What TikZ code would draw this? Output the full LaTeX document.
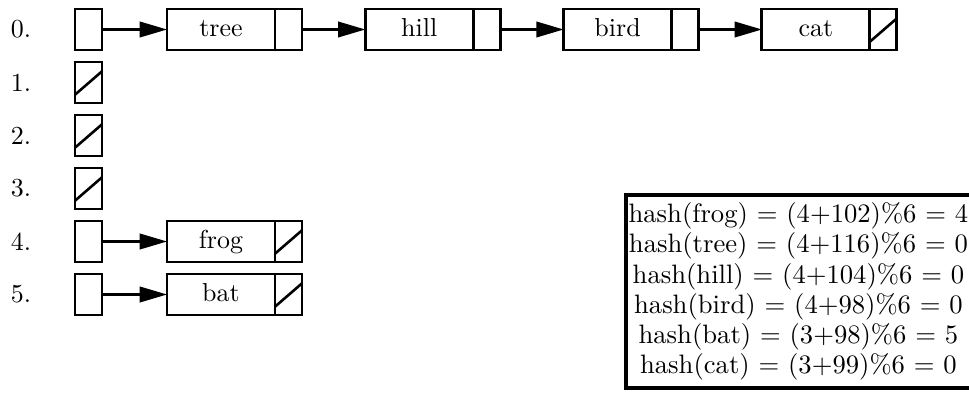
\documentclass[tikz,border=0pt]{standalone}
\usetikzlibrary{arrows.meta}
\begin{document}
\begin{tikzpicture}[x=0.385pt,y=-0.385pt,
  cellbox/.style={draw,line width=1.1pt,outer sep=0pt,inner sep=0pt,minimum height=15.8pt},
  idxcell/.style={cellbox,minimum width=10.4pt},
  datacell/.style={cellbox,minimum width=41.6pt,text height=1.5ex,text depth=0.25ex},
  ptrcell/.style={cellbox,minimum width=10.4pt},
  lbl/.style={inner sep=0pt},
  link/.style={line width=0.8pt,-{Triangle[length=10.5pt,width=6pt]}},
  nil/.style={line width=1pt},
  hashbox/.style={draw,line width=1.4pt,outer sep=0pt,inner xsep=1pt,inner ysep=3pt,align=center,anchor=north west}
]
\useasboundingbox (0,0) rectangle (969,394);
\clip (0,0) rectangle (969,394);
% index column
\foreach \i in {0,...,5}{
  \node[lbl] (l\i) at (21,{29.5+53*\i}) {\i.};
  \node[idxcell] (r\i) at (88.5,{29.5+53*\i}) {};
}
\foreach \i in {1,2,3}{
  \draw[nil] ([yshift=3.2pt]r\i.south west) -- ([yshift=-3.6pt]r\i.north east);
}
% row 0 chain
\node[datacell] (tree) at (221,29.5) {tree};
\node[ptrcell] (treep) at (288.5,29.5) {};
\node[datacell] (hill) at (419.3,29.5) {hill};
\node[ptrcell] (hillp) at (486.8,29.5) {};
\node[datacell] (bird) at (617.6,29.5) {bird};
\node[ptrcell] (birdp) at (685.1,29.5) {};
\node[datacell] (cat) at (815.9,29.5) {cat};
\node[ptrcell] (catp) at (883.4,29.5) {};
% rows 4 and 5
\node[datacell] (frog) at (221,241.5) {frog};
\node[ptrcell] (frogp) at (288.5,241.5) {};
\node[datacell] (bat) at (221,294.5) {bat};
\node[ptrcell] (batp) at (288.5,294.5) {};
% links
\draw[link] (r0.east) -- (tree.west);
\draw[link] (treep.east) -- (hill.west);
\draw[link] (hillp.east) -- (bird.west);
\draw[link] (birdp.east) -- (cat.west);
\draw[link] (r4.east) -- (frog.west);
\draw[link] (r5.east) -- (bat.west);
% null pointers
\foreach \p in {catp,frogp,batp}{
  \draw[nil] ([yshift=3.2pt]\p.south west) -- ([yshift=-3.6pt]\p.north east);
}
% hash box
\node[hashbox,font={\fontsize{10.25pt}{11.6pt}\selectfont}] (hash) at (626,195)
  {hash(frog) = (4+102)\%6 = 4\\
   hash(tree) = (4+116)\%6 = 0\\
   hash(hill) = (4+104)\%6 = 0\\
   hash(bird) = (4+98)\%6 = 0\\
   hash(bat) = (3+98)\%6 = 5\\
   hash(cat) = (3+99)\%6 = 0};
\end{tikzpicture}
\end{document}
